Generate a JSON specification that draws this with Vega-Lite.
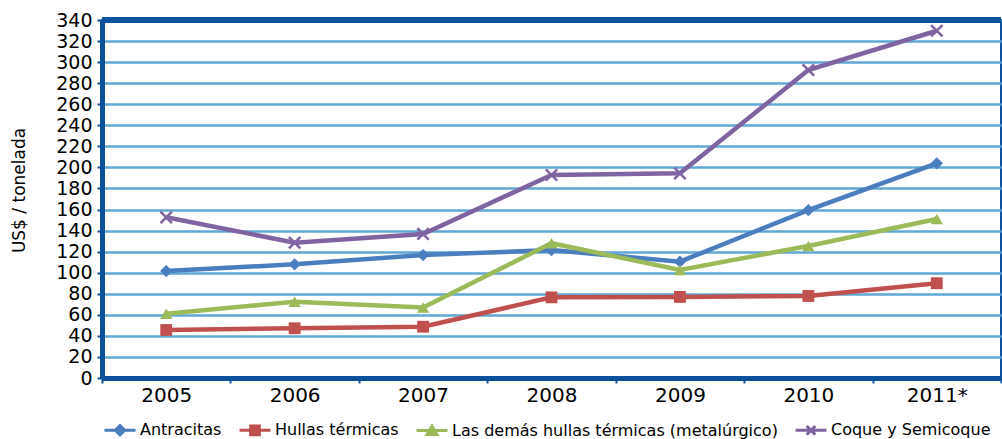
{
  "$schema": "https://vega.github.io/schema/vega-lite/v6.json",
  "autosize": {"type": "none"},
  "width": 899,
  "height": 358,
  "padding": {"left": 102, "top": 20, "right": 1, "bottom": 61},
  "background": "white",
  "config": {
    "font": "DejaVu Sans",
    "view": {"stroke": "#0C519C", "strokeWidth": 2},
    "axis": {
      "labelFont": "DejaVu Sans",
      "labelColor": "#000000",
      "titleFont": "DejaVu Sans",
      "titleFontWeight": "normal",
      "titleColor": "#000000",
      "domainColor": "#0C519C",
      "domainWidth": 5,
      "tickColor": "#0C519C",
      "tickWidth": 2,
      "tickSize": 5
    },
    "legend": {
      "labelFont": "DejaVu Sans",
      "labelFontSize": 16,
      "labelColor": "#000000",
      "labelLimit": 500
    }
  },
  "data": {
    "values": [
      {"anio": "2005", "serie": "Antracitas", "valor": 101.6},
      {"anio": "2006", "serie": "Antracitas", "valor": 108},
      {"anio": "2007", "serie": "Antracitas", "valor": 116.8},
      {"anio": "2008", "serie": "Antracitas", "valor": 121.5},
      {"anio": "2009", "serie": "Antracitas", "valor": 110.5},
      {"anio": "2010", "serie": "Antracitas", "valor": 159.5},
      {"anio": "2011*", "serie": "Antracitas", "valor": 203.9},
      {"anio": "2005", "serie": "Hullas térmicas", "valor": 45.6},
      {"anio": "2006", "serie": "Hullas térmicas", "valor": 47.2},
      {"anio": "2007", "serie": "Hullas térmicas", "valor": 48.7},
      {"anio": "2008", "serie": "Hullas térmicas", "valor": 76.6},
      {"anio": "2009", "serie": "Hullas térmicas", "valor": 77},
      {"anio": "2010", "serie": "Hullas térmicas", "valor": 77.9},
      {"anio": "2011*", "serie": "Hullas térmicas", "valor": 90},
      {"anio": "2005", "serie": "Las demás hullas térmicas (metalúrgico)", "valor": 61},
      {"anio": "2006", "serie": "Las demás hullas térmicas (metalúrgico)", "valor": 72.5},
      {"anio": "2007", "serie": "Las demás hullas térmicas (metalúrgico)", "valor": 67},
      {"anio": "2008", "serie": "Las demás hullas térmicas (metalúrgico)", "valor": 128},
      {"anio": "2009", "serie": "Las demás hullas térmicas (metalúrgico)", "valor": 102.6},
      {"anio": "2010", "serie": "Las demás hullas térmicas (metalúrgico)", "valor": 125.4},
      {"anio": "2011*", "serie": "Las demás hullas térmicas (metalúrgico)", "valor": 151},
      {"anio": "2005", "serie": "Coque y Semicoque", "valor": 152.6},
      {"anio": "2006", "serie": "Coque y Semicoque", "valor": 128.5},
      {"anio": "2007", "serie": "Coque y Semicoque", "valor": 136.8},
      {"anio": "2008", "serie": "Coque y Semicoque", "valor": 192.8},
      {"anio": "2009", "serie": "Coque y Semicoque", "valor": 194.4},
      {"anio": "2010", "serie": "Coque y Semicoque", "valor": 292.5},
      {"anio": "2011*", "serie": "Coque y Semicoque", "valor": 329.8}
    ]
  },
  "encoding": {
    "x": {
      "field": "anio",
      "type": "ordinal",
      "sort": null,
      "scale": {"paddingInner": 0, "paddingOuter": 0},
      "axis": {
        "title": null,
        "labelAngle": 0,
        "labelFontSize": 20,
        "labelPadding": 2,
        "tickBand": "extent",
        "grid": false
      }
    },
    "y": {
      "field": "valor",
      "type": "quantitative",
      "scale": {"domain": [0, 340], "nice": false, "zero": true},
      "axis": {
        "title": "US$ / tonelada",
        "titleFontSize": 17,
        "titleAngle": -90,
        "titleX": -83,
        "titleY": 170,
        "titleAlign": "center",
        "titleBaseline": "middle",
        "labelFontSize": 19,
        "values": [0, 20, 40, 60, 80, 100, 120, 140, 160, 180, 200, 220, 240, 260, 280, 300, 320, 340],
        "labelPadding": 5,
        "grid": true,
        "gridColor": "#5FA8D6",
        "gridWidth": 2.5
      }
    }
  },
  "layer": [
    {
      "mark": {"type": "point", "filled": true, "opacity": 0},
      "encoding": {
        "color": {
          "field": "serie",
          "type": "nominal",
          "scale": {
            "domain": ["Antracitas", "Hullas térmicas", "Las demás hullas térmicas (metalúrgico)", "Coque y Semicoque"],
            "range": ["#4A7EBF", "#C0504D", "#9BBB59", "#8064A2"]
          },
          "legend": {
            "title": null,
            "orient": "none",
            "direction": "horizontal",
            "legendX": 1,
            "legendY": 393,
            "symbolSize": 961,
            "symbolStrokeWidth": 3,
            "symbolOpacity": 1,
            "labelOffset": 3,
            "columnPadding": 11,
            "encode": {
              "symbols": {
                "update": {
                  "opacity": {"value": 1},
                  "stroke": {"scale": "color", "field": "value"},
                  "fill": {"scale": "color", "field": "value"}
                }
              }
            }
          }
        },
        "shape": {
          "field": "serie",
          "type": "nominal",
          "scale": {
            "domain": ["Antracitas", "Hullas térmicas", "Las demás hullas térmicas (metalúrgico)", "Coque y Semicoque"],
            "range": [
              "M-1,0H1M0,-0.3L0.3,0L0,0.3L-0.3,0Z",
              "M-1,0H1M-0.28,-0.28H0.28V0.28H-0.28Z",
              "M-1,0H1M0,-0.3L0.32,0.25H-0.32Z",
              "M-1,0H1M-0.28,-0.28L0.28,0.28M-0.28,0.28L0.28,-0.28"
            ]
          },
          "legend": {
            "title": null,
            "orient": "none",
            "direction": "horizontal",
            "legendX": 1,
            "legendY": 393,
            "symbolSize": 961,
            "symbolStrokeWidth": 3,
            "symbolOpacity": 1,
            "labelOffset": 3,
            "columnPadding": 11,
            "encode": {
              "symbols": {
                "update": {
                  "opacity": {"value": 1},
                  "stroke": {"scale": "color", "field": "value"},
                  "fill": {"scale": "color", "field": "value"}
                }
              }
            }
          }
        }
      }
    },
    {
      "mark": {"type": "rule", "color": "#0C519C", "strokeWidth": 5},
      "encoding": {"y": {"datum": 340}, "x": null}
    },
    {
      "mark": {"type": "line", "strokeWidth": 4.5},
      "encoding": {"color": {"field": "serie", "type": "nominal"}}
    },
    {
      "transform": [{"filter": "datum.serie === 'Antracitas'"}],
      "mark": {"type": "point", "shape": "diamond", "filled": true, "opacity": 1, "size": 150},
      "encoding": {"color": {"field": "serie", "type": "nominal"}}
    },
    {
      "transform": [{"filter": "datum.serie === 'Hullas térmicas'"}],
      "mark": {"type": "point", "shape": "square", "filled": true, "opacity": 1, "size": 140},
      "encoding": {"color": {"field": "serie", "type": "nominal"}}
    },
    {
      "transform": [{"filter": "datum.serie === 'Las demás hullas térmicas (metalúrgico)'"}],
      "mark": {"type": "point", "shape": "triangle-up", "filled": true, "opacity": 1, "size": 150},
      "encoding": {"color": {"field": "serie", "type": "nominal"}}
    },
    {
      "transform": [{"filter": "datum.serie === 'Coque y Semicoque'"}],
      "mark": {"type": "point", "shape": "M-1,-1L1,1M-1,1L1,-1", "filled": false, "opacity": 1, "size": 130, "strokeWidth": 2.5},
      "encoding": {"color": {"field": "serie", "type": "nominal"}}
    }
  ]
}
